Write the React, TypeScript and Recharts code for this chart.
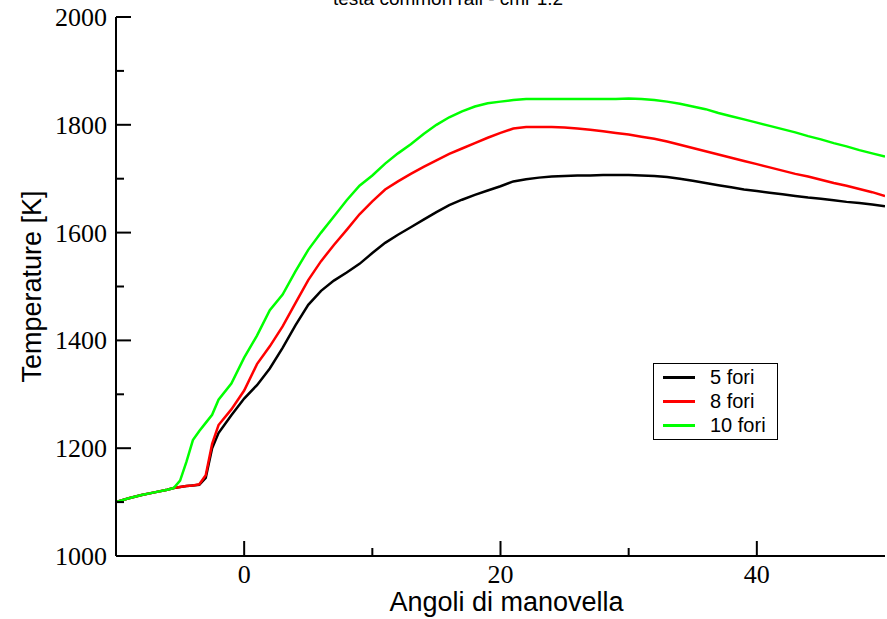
import React from "react"
import { LineChart, Line, XAxis, YAxis, Legend } from "recharts"

// crank angle (deg) and gas temperature (K) for the three injector layouts
const angle = [
  -10, -9, -8, -7, -6, -5.5, -5, -4.5, -4, -3.5, -3, -2.5, -2, -1,
  0, 1, 2, 3, 4, 5, 6, 7, 8, 9, 10, 11, 12, 13, 14, 15, 16, 17, 18, 19, 20,
  21, 22, 23, 24, 25, 26, 27, 28, 29, 30, 31, 32, 33, 34, 35, 36, 37, 38, 39, 40,
  41, 42, 43, 44, 45, 46, 47, 48, 49, 50,
]

const fori5 = [
  1100, 1107, 1113, 1118, 1123, 1126, 1128, 1130, 1131, 1132, 1145, 1200, 1228, 1261,
  1292, 1317, 1348, 1386, 1428, 1466, 1492, 1511, 1526, 1542, 1562, 1581, 1596, 1610, 1624, 1638, 1651, 1661, 1670, 1678, 1686,
  1695, 1699, 1702, 1704, 1705, 1706, 1706, 1707, 1707, 1707, 1706, 1705, 1703, 1700, 1696, 1692, 1688, 1684, 1680, 1677,
  1674, 1671, 1668, 1665, 1663, 1660, 1657, 1655, 1652, 1649,
]

const fori8 = [
  1100, 1107, 1113, 1118, 1123, 1126, 1128, 1130, 1131, 1133, 1150, 1208, 1243, 1272,
  1307, 1356, 1389, 1426, 1469, 1512, 1547, 1577, 1605, 1634, 1658, 1680, 1695, 1709, 1722, 1734, 1746, 1756, 1766, 1776, 1785,
  1793, 1796, 1796, 1796, 1795, 1793, 1791, 1788, 1785, 1782, 1778, 1774, 1769, 1763, 1757, 1751, 1745, 1739, 1733, 1727,
  1721, 1715, 1709, 1704, 1698, 1692, 1687, 1681, 1675, 1668,
]

const fori10 = [
  1100, 1107, 1113, 1118, 1123, 1126, 1140, 1175, 1215, 1232, 1247, 1262, 1290, 1320,
  1368, 1409, 1456, 1485, 1528, 1568, 1600, 1630, 1660, 1687, 1706, 1728, 1747, 1764, 1783, 1800, 1814, 1825, 1834, 1840, 1843,
  1846, 1848, 1848, 1848, 1848, 1848, 1848, 1848, 1848, 1849, 1848, 1846, 1843, 1839, 1834, 1829, 1822, 1816, 1810, 1804,
  1798, 1792, 1786, 1779, 1773, 1766, 1760, 1753, 1747, 1741,
]

const seriesNames = ["5 fori", "8 fori", "10 fori"]

const xTicks = [0, 10, 20, 30, 40]
const xMajor = [0, 20, 40]
const yTicks = [1000, 1100, 1200, 1300, 1400, 1500, 1600, 1700, 1800, 1900, 2000]
const yMajor = [1000, 1200, 1400, 1600, 1800, 2000]

const data = angle.map((a, i) => ({ angle: a, fori5: fori5[i], fori8: fori8[i], fori10: fori10[i] }))

const serif = "'Liberation Serif', 'Times New Roman', serif"
const sans = "'Liberation Sans', Arial, sans-serif"
const MAJOR = 15
const MINOR = 8

const BottomTick = ({ x, y, payload }: any) => {
  const major = xMajor.includes(payload.value)
  return (
    <g>
      <line x1={x} y1={y} x2={x} y2={y - (major ? MAJOR : MINOR)} stroke="#000" strokeWidth={2} />
      {major && (
        <text x={x} y={y + 27} textAnchor="middle" fontFamily={serif} fontSize={26} fill="#000">
          {payload.value}
        </text>
      )}
    </g>
  )
}

const TopTick = ({ x, y, payload }: any) => {
  const major = xMajor.includes(payload.value)
  return <line x1={x} y1={y} x2={x} y2={y + (major ? MAJOR : MINOR)} stroke="#000" strokeWidth={2} />
}

const LeftTick = ({ x, y, payload }: any) => {
  const major = yMajor.includes(payload.value)
  return (
    <g>
      <line x1={x} y1={y} x2={x + (major ? MAJOR : MINOR)} y2={y} stroke="#000" strokeWidth={2} />
      {major && (
        <text x={x - 9} y={y + 9} textAnchor="end" fontFamily={serif} fontSize={26} fill="#000">
          {payload.value}
        </text>
      )}
    </g>
  )
}

const RightTick = ({ x, y, payload }: any) => {
  const major = yMajor.includes(payload.value)
  return <line x1={x} y1={y} x2={x - (major ? MAJOR : MINOR)} y2={y} stroke="#000" strokeWidth={2} />
}

const XTitle = ({ viewBox }: any) => (
  <text
    x={viewBox.x + viewBox.width / 2 + 6}
    y={viewBox.y + 55}
    textAnchor="middle"
    fontFamily={sans}
    fontSize={27}
    fill="#000"
  >
    Angoli di manovella
  </text>
)

const YTitle = ({ viewBox }: any) => {
  const cx = viewBox.x + 32
  const cy = viewBox.y + viewBox.height / 2
  return (
    <text
      x={cx}
      y={cy}
      transform={`rotate(-90, ${cx}, ${cy})`}
      textAnchor="middle"
      dominantBaseline="central"
      fontFamily={sans}
      fontSize={27}
      fill="#000"
    >
      Temperature [K]
    </text>
  )
}

const LegendBox = ({ payload }: any) => {
  const items = [...(payload || [])].sort(
    (a: any, b: any) => seriesNames.indexOf(a.value) - seriesNames.indexOf(b.value)
  )
  return (
    <div
      style={{
        width: 125,
        height: 77,
        boxSizing: "border-box",
        border: "1.5px solid #000",
        background: "#fff",
        paddingTop: 1,
        fontFamily: sans,
        fontSize: 20,
        color: "#000",
      }}
    >
      {items.map((p: any) => (
        <div key={p.value} style={{ display: "flex", alignItems: "center", height: 24 }}>
          <div style={{ width: 32, height: 3, background: p.color, marginLeft: 9, marginRight: 15 }} />
          <span style={{ lineHeight: "24px" }}>{p.value}</span>
        </div>
      ))}
    </div>
  )
}

export default function App() {
  const axisLine = { stroke: "#000", strokeWidth: 2 }
  return (
    <div style={{ position: "absolute", left: 0, top: 0, width: 887, height: 619, background: "#fff" }}>
      <svg width={887} height={20} style={{ position: "absolute", left: 0, top: 0 }}>
        <text x={448} y={5} textAnchor="middle" fontFamily={sans} fontSize={19} fill="#000">
          testa common rail - cmr 1.2
        </text>
      </svg>
      <LineChart width={887} height={619} data={data} margin={{ top: 17, right: 2, bottom: 0, left: 0 }}>
        <XAxis
          dataKey="angle"
          type="number"
          domain={[-10, 50]}
          ticks={xTicks}
          interval={0}
          allowDataOverflow
          height={63}
          tickSize={0}
          tickMargin={0}
          tickLine={false}
          tick={<BottomTick />}
          axisLine={axisLine}
          label={<XTitle />}
        />
        <XAxis
          xAxisId="top"
          orientation="top"
          type="number"
          domain={[-10, 50]}
          ticks={xTicks}
          interval={0}
          allowDataOverflow
          height={0}
          tickSize={0}
          tickMargin={0}
          tickLine={false}
          tick={<TopTick />}
          axisLine={axisLine}
        />
        <YAxis
          type="number"
          domain={[1000, 2000]}
          ticks={yTicks}
          interval={0}
          allowDataOverflow
          width={116}
          tickSize={0}
          tickMargin={0}
          tickLine={false}
          tick={<LeftTick />}
          axisLine={axisLine}
          label={<YTitle />}
        />
        <YAxis
          yAxisId="right"
          orientation="right"
          type="number"
          domain={[1000, 2000]}
          ticks={yTicks}
          interval={0}
          allowDataOverflow
          width={0}
          tickSize={0}
          tickMargin={0}
          tickLine={false}
          tick={<RightTick />}
          axisLine={axisLine}
        />
        <Legend
          layout="vertical"
          align="center"
          verticalAlign="middle"
          content={<LegendBox />}
          wrapperStyle={{ left: 653, top: 363, width: 125, height: 77 }}
        />
        <Line type="linear" dataKey="fori5" name="5 fori" stroke="#000000" strokeWidth={2.5} dot={false} isAnimationActive={false} />
        <Line type="linear" dataKey="fori8" name="8 fori" stroke="#ff0000" strokeWidth={2.5} dot={false} isAnimationActive={false} />
        <Line type="linear" dataKey="fori10" name="10 fori" stroke="#00ff00" strokeWidth={2.5} dot={false} isAnimationActive={false} />
      </LineChart>
    </div>
  )
}
